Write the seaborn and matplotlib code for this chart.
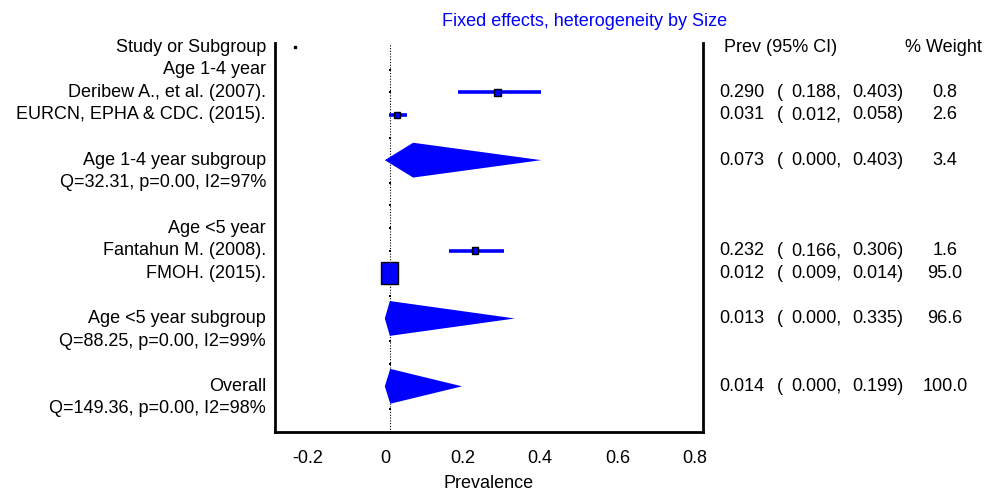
import numpy as np
import pandas as pd
import seaborn as sns
import matplotlib.pyplot as plt
from matplotlib.patches import Polygon, Rectangle
from matplotlib.transforms import blended_transform_factory

# rows of the forest plot, top to bottom
row_labels = ["Study or Subgroup", "Age 1-4 year", "Deribew A., et al. (2007).",
              "EURCN, EPHA & CDC. (2015).", "", "Age 1-4 year subgroup",
              "Q=32.31, p=0.00, I2=97%", "", "Age <5 year", "Fantahun M. (2008).",
              "FMOH. (2015).", "", "Age <5 year subgroup", "Q=88.25, p=0.00, I2=99%",
              "", "Overall", "Q=149.36, p=0.00, I2=98%"]

# individual studies
study_rows = [2, 3, 9, 10]
study_est = [0.290, 0.031, 0.232, 0.012]
study_lo = [0.188, 0.012, 0.166, 0.009]
study_hi = [0.403, 0.058, 0.306, 0.014]
study_wt = [0.8, 2.6, 1.6, 95.0]

# pooled estimates (subgroups + overall)
pool_rows = [5, 12, 15]
pool_est = [0.073, 0.013, 0.014]
pool_lo = [0.000, 0.000, 0.000]
pool_hi = [0.403, 0.335, 0.199]
pool_wt = [3.4, 96.6, 100.0]

overall_est = 0.014

sns.set_theme(style="white")
plt.rcParams['font.family'] = ['Liberation Sans Narrow', 'Liberation Sans', 'DejaVu Sans']
plt.rcParams['text.color'] = 'black'
plt.rcParams['axes.labelcolor'] = 'black'
plt.rcParams['xtick.labelcolor'] = 'black'
FS = 13

fig = plt.figure(figsize=(9.84, 4.95), dpi=100)
ax = fig.add_axes([275 / 984, 1 - 432 / 495, 428 / 984, 389 / 495])

n_rows = len(row_labels)
ax.set_xlim(-0.283, 0.820)
ax.set_ylim(n_rows + 0.02, -0.18)

# dotted line at the overall estimate, with small dots on each row
ax.axvline(overall_est, ls=(0, (1, 1.5)), color="black", lw=0.8, zorder=1)
dots = pd.DataFrame({"x": [overall_est] * (n_rows - 1), "y": list(range(1, n_rows))})
sns.scatterplot(data=dots, x="x", y="y", ax=ax, color="black", s=4, marker="s",
                linewidth=0, zorder=2, legend=False)
ax.plot([-0.232], [0], marker="s", ms=2, color="black", ls="none")

# confidence intervals and weighted boxes
for r, e, lo, hi, w in zip(study_rows, study_est, study_lo, study_hi, study_wt):
    ax.plot([lo, hi], [r, r], color="blue", lw=2.6, solid_capstyle="butt", zorder=3)
    bw = max(0.017, 0.00046 * w)
    bh = max(0.30, 0.0102 * w)
    ax.add_patch(Rectangle((e - bw / 2, r - bh / 2), bw, bh, facecolor="blue",
                           edgecolor="black", lw=1.0, zorder=4))

# diamonds
for r, e, lo, hi in zip(pool_rows, pool_est, pool_lo, pool_hi):
    h = 0.77
    ax.add_patch(Polygon([(lo, r), (e, r - h), (hi, r), (e, r + h)], closed=True,
                         facecolor="blue", edgecolor="none", zorder=3))

# axes styling
ax.spines["top"].set_visible(False)
for side in ["left", "right", "bottom"]:
    ax.spines[side].set_color("black")
    ax.spines[side].set_linewidth(2)
ax.set_yticks([])
ax.set_ylabel("")
ax.set_xticks([-0.2, 0, 0.2, 0.4, 0.6, 0.8])
ax.set_xticklabels(["-0.2", "0", "0.2", "0.4", "0.6", "0.8"])
ax.tick_params(axis="x", direction="out", length=5, width=1, color="#999999",
               labelsize=FS, labelcolor="black", pad=8)
ax.set_xlabel("Prevalence", fontsize=FS, labelpad=6, color="black")

# left labels
tr = blended_transform_factory(ax.transAxes, ax.transData)
for i, lab in enumerate(row_labels):
    if lab:
        ax.text(-9 / 428, i, lab, transform=tr, ha="right", va="center", fontsize=FS)

# right columns
fig_tr = blended_transform_factory(fig.transFigure, ax.transData)
ax.text(724 / 984, 0, "Prev (95% CI)", transform=fig_tr, ha="left", va="center", fontsize=FS)
ax.text(943 / 984, 0, "% Weight", transform=fig_tr, ha="center", va="center", fontsize=FS)
all_rows = study_rows + pool_rows
all_est = study_est + pool_est
all_lo = study_lo + pool_lo
all_hi = study_hi + pool_hi
all_wt = study_wt + pool_wt
for r, e, lo, hi, w in zip(all_rows, all_est, all_lo, all_hi, all_wt):
    ax.text(719 / 984, r, f"{e:.3f}", transform=fig_tr, ha="left", va="center", fontsize=FS)
    ax.text(777 / 984, r, "(", transform=fig_tr, ha="left", va="center", fontsize=FS)
    ax.text(791 / 984, r, f"{lo:.3f},", transform=fig_tr, ha="left", va="center", fontsize=FS)
    ax.text(852 / 984, r, f"{hi:.3f})", transform=fig_tr, ha="left", va="center", fontsize=FS)
    ax.text(945 / 984, r, f"{w:.1f}", transform=fig_tr, ha="center", va="center", fontsize=FS)

fig.text(585 / 984, 1 - 22 / 495, "Fixed effects, heterogeneity by Size", color="blue",
         ha="center", va="center", fontsize=FS)

fig.savefig("out.png", dpi=100)
